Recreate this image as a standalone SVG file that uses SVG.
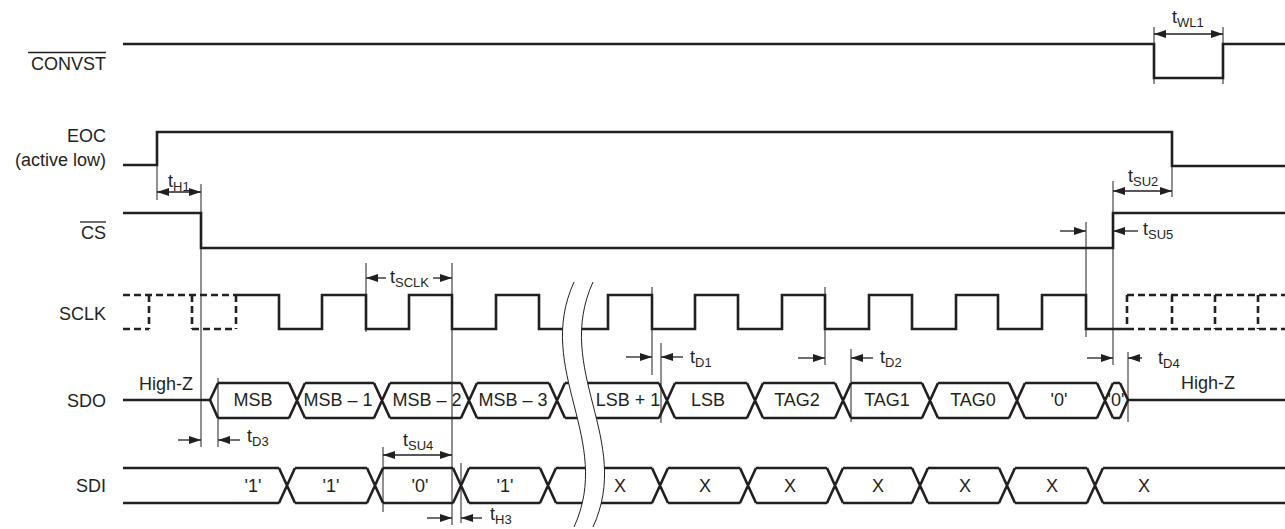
<svg xmlns="http://www.w3.org/2000/svg" width="1285" height="529" viewBox="0 0 1285 529">
<defs>
<style>
text{font-family:"Liberation Sans",Arial,Helvetica,sans-serif;font-size:18px;fill:#231f20}
.r{text-anchor:end}
.m{text-anchor:middle}
.sub{font-size:13px}
.sig{fill:none;stroke:#231f20;stroke-width:2.6;stroke-linejoin:miter;stroke-linecap:butt}
.dash{fill:none;stroke:#231f20;stroke-width:2.6;stroke-dasharray:7 4}
.guide{fill:none;stroke:#231f20;stroke-width:1}
.ov{stroke:#231f20;stroke-width:1.3}
.arr{fill:none;stroke:#231f20;stroke-width:1.3;marker-end:url(#ah)}
.arr2{fill:none;stroke:#231f20;stroke-width:1.3;marker-end:url(#ah);marker-start:url(#ahs)}
</style>
<marker id="ah" markerUnits="userSpaceOnUse" markerWidth="13" markerHeight="9" refX="12" refY="4" orient="auto"><path d="M0,0 L12,4 L0,8 Z" fill="#231f20"/></marker>
<marker id="ahs" markerUnits="userSpaceOnUse" markerWidth="13" markerHeight="9" refX="0" refY="4" orient="auto"><path d="M12,0 L0,4 L12,8 Z" fill="#231f20"/></marker>
</defs>
<rect width="1285" height="529" fill="#fff"/>

<g id="convst">
<text class="r" x="106" y="70">CONVST</text>
<line class="ov" x1="28" y1="52.5" x2="106" y2="52.5"/>
<path class="sig" d="M123,44 H1154 V78 H1223 V44 H1285"/>
</g>

<g id="eoc">
<text class="r" x="106" y="142">EOC</text>
<text class="r" x="106" y="166">(active low)</text>
<path class="sig" d="M123,165 H157 V132 H1172 V166 H1285"/>
</g>

<g id="cs">
<text class="r" x="106" y="239">CS</text>
<line class="ov" x1="80" y1="222" x2="106" y2="222"/>
<path class="sig" d="M123,213 H201 V248 H1113 V213 H1285"/>
</g>

<g id="sclk">
<text class="r" x="106" y="320">SCLK</text>
<path class="dash" d="M123,295 H236 M123,329 H149 M192,329 H236 M149,295 V329 M192,295 V329 M236,295 V329"/>
<path class="dash" d="M1127,295 H1285 M1127,329 H1285 M1127,295 V329 M1172,295 V329 M1215,295 V329 M1258,295 V329"/>
<path class="sig" d="M236,295 H279 V329 H322 V295 H366 V329 H409 V295 H452 V329 H496 V295 H539 V329 H608 V295 H652 V329 H695 V295 H738 V329 H782 V295 H825 V329 H869 V295 H912 V329 H956 V295 H998 V329 H1042 V295 H1086 V329 H1127"/>
</g>

<g id="sdo">
<text class="r" x="106" y="407">SDO</text>
<text class="m" x="166" y="390">High-Z</text>
<text class="m" x="1208" y="389">High-Z</text>
<path class="sig" d="M123,400 H210 L218,383 M210,400 L218,418
M218,383 H289 M305,383 H374 M390,383 H461 M477,383 H549 M565,383 H659 M675,383 H747 M763,383 H835 M851,383 H922 M938,383 H1009 M1025,383 H1097 M1113,383 H1120
M218,418 H289 M305,418 H374 M390,418 H461 M477,418 H549 M565,418 H659 M675,418 H747 M763,418 H835 M851,418 H922 M938,418 H1009 M1025,418 H1097 M1113,418 H1120
M289,383 L305,418 M289,418 L305,383
M374,383 L390,418 M374,418 L390,383
M461,383 L477,418 M461,418 L477,383
M549,383 L565,418 M549,418 L565,383
M659,383 L675,418 M659,418 L675,383
M747,383 L763,418 M747,418 L763,383
M835,383 L851,418 M835,418 L851,383
M922,383 L938,418 M922,418 L938,383
M1009,383 L1025,418 M1009,418 L1025,383
M1097,383 L1113,418 M1097,418 L1113,383
M1120,383 L1128,400 L1120,418 M1128,400 H1285"/>
<text class="m" x="253" y="406">MSB</text>
<text class="m" x="338" y="406">MSB – 1</text>
<text class="m" x="427" y="406">MSB – 2</text>
<text class="m" x="513" y="406">MSB – 3</text>
<text class="m" x="628" y="406">LSB + 1</text>
<text class="m" x="708" y="406">LSB</text>
<text class="m" x="797" y="406">TAG2</text>
<text class="m" x="887" y="406">TAG1</text>
<text class="m" x="973" y="406">TAG0</text>
<text class="m" x="1059" y="406">'0'</text>
<text class="m" x="1116" y="406">'0'</text>
</g>

<g id="sdi">
<text class="r" x="106" y="492">SDI</text>
<path class="sig" d="M123,468 H279 M295,468 H367 M383,468 H453 M469,468 H540 M556,468 H652 M668,468 H740 M756,468 H827 M843,468 H912 M928,468 H999 M1015,468 H1087 M1103,468 H1285
M123,503 H279 M295,503 H367 M383,503 H453 M469,503 H540 M556,503 H652 M668,503 H740 M756,503 H827 M843,503 H912 M928,503 H999 M1015,503 H1087 M1103,503 H1285
M279,468 L295,503 M279,503 L295,468
M367,468 L383,503 M367,503 L383,468
M453,468 L469,503 M453,503 L469,468
M540,468 L556,503 M540,503 L556,468
M652,468 L668,503 M652,503 L668,468
M740,468 L756,503 M740,503 L756,468
M827,468 L843,503 M827,503 L843,468
M912,468 L928,503 M912,503 L928,468
M999,468 L1015,503 M999,503 L1015,468
M1087,468 L1103,503 M1087,503 L1103,468"/>
<text class="m" x="253" y="492">'1'</text>
<text class="m" x="331" y="492">'1'</text>
<text class="m" x="420" y="492">'0'</text>
<text class="m" x="505" y="492">'1'</text>
<text class="m" x="620" y="492">X</text>
<text class="m" x="705" y="492">X</text>
<text class="m" x="790" y="492">X</text>
<text class="m" x="878" y="492">X</text>
<text class="m" x="965" y="492">X</text>
<text class="m" x="1052" y="492">X</text>
<text class="m" x="1144" y="492">X</text>
</g>

<g id="break">
<path d="M574,282 C534,370 614,440 574,527 L593,527 C633,440 553,370 593,282 Z" fill="#fff" stroke="none"/>
<path class="guide" stroke-width="1.2" d="M574,282 C534,370 614,440 574,527 M593,282 C553,370 633,440 593,527"/>
</g>

<g id="connectors">
<path class="guide" d="M157,165 V200 M201,184 V447 M1113,181 V365 M1172,166 V197 M1154,27 V84 M1223,27 V84 M366,263 V332 M452,263 V525 M1086,222 V337 M652,287 V375 M661,343 V423 M825,287 V365 M851,349 V422 M1128,352 V422 M218,378 V447 M383,447 V512 M461,463 V523"/>
<line class="arr2" x1="1154" y1="34" x2="1223" y2="34"/>
<line class="arr2" x1="157" y1="192" x2="201" y2="192"/>
<line class="arr2" x1="1113" y1="191" x2="1172" y2="191"/>
<line class="arr" x1="386" y1="278" x2="366" y2="278"/>
<line class="arr" x1="433" y1="278" x2="452" y2="278"/>
<line class="arr" x1="1060" y1="231" x2="1086" y2="231"/>
<line class="arr" x1="1138" y1="231" x2="1113" y2="231"/>
<line class="arr" x1="626" y1="357" x2="652" y2="357"/>
<line class="arr" x1="683" y1="357" x2="661" y2="357"/>
<line class="arr" x1="798" y1="358" x2="825" y2="358"/>
<line class="arr" x1="873" y1="358" x2="851" y2="358"/>
<line class="arr" x1="1087" y1="358" x2="1113" y2="358"/>
<line class="arr" x1="1142" y1="358" x2="1128" y2="358"/>
<line class="arr" x1="178" y1="440" x2="201" y2="440"/>
<line class="arr" x1="240" y1="440" x2="218" y2="440"/>
<line class="arr2" x1="383" y1="455" x2="452" y2="455"/>
<line class="arr" x1="427" y1="518" x2="452" y2="518"/>
<line class="arr" x1="482" y1="518" x2="461" y2="518"/>
</g>

<g id="timing-labels">
<text x="1172" y="23">t<tspan class="sub" dy="4">WL1</tspan></text>
<text x="168" y="187">t<tspan class="sub" dy="4">H1</tspan></text>
<text x="1128" y="182">t<tspan class="sub" dy="4">SU2</tspan></text>
<text x="390" y="283">t<tspan class="sub" dy="4">SCLK</tspan></text>
<text x="1143" y="235">t<tspan class="sub" dy="4">SU5</tspan></text>
<text x="690" y="363">t<tspan class="sub" dy="4">D1</tspan></text>
<text x="880" y="363">t<tspan class="sub" dy="4">D2</tspan></text>
<text x="1158" y="364">t<tspan class="sub" dy="4">D4</tspan></text>
<text x="247" y="442">t<tspan class="sub" dy="4">D3</tspan></text>
<text x="403" y="446">t<tspan class="sub" dy="4">SU4</tspan></text>
<text x="490" y="520">t<tspan class="sub" dy="4">H3</tspan></text>
</g>
</svg>
